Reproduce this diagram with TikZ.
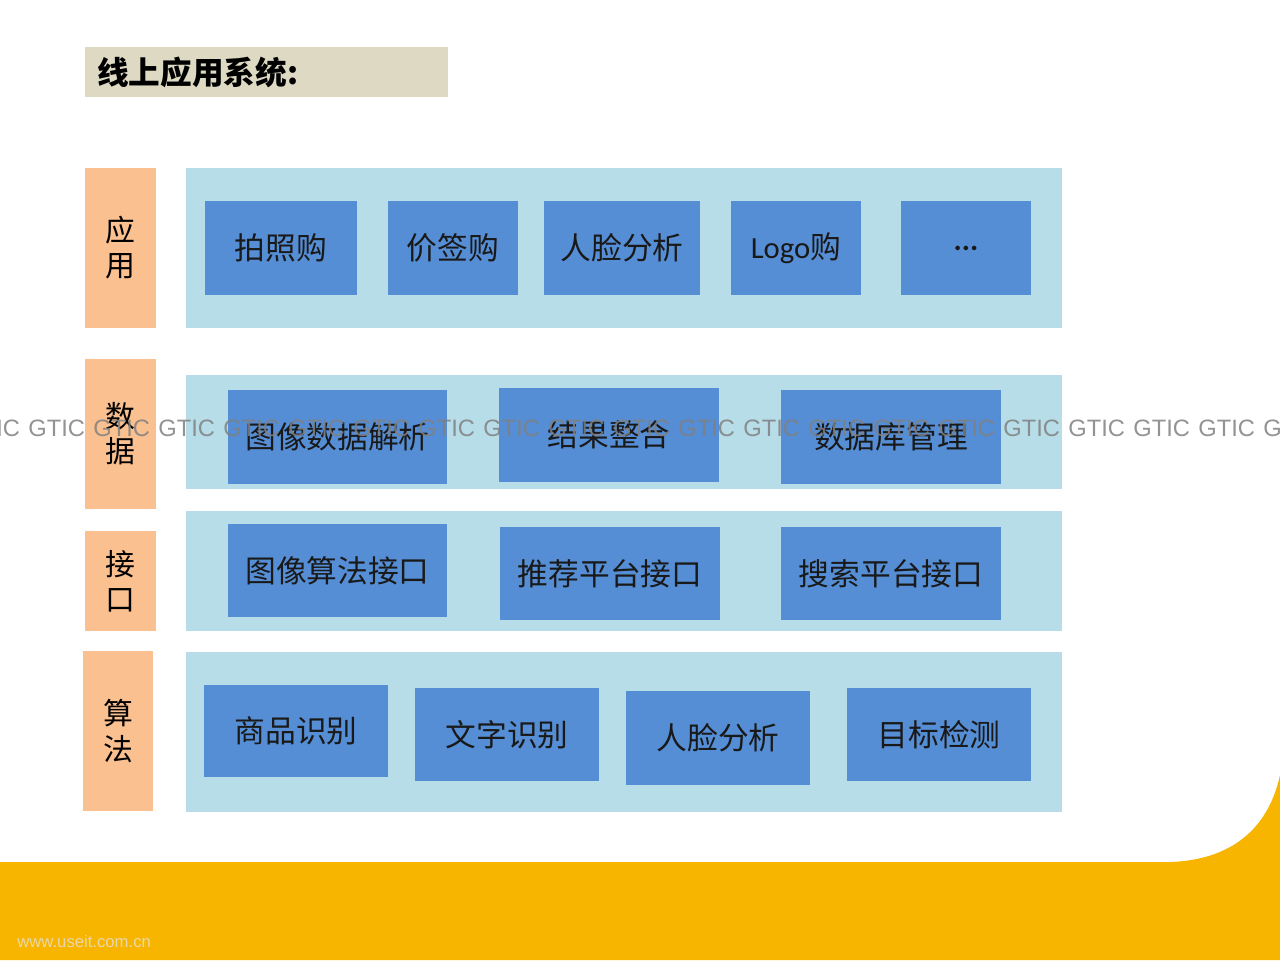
\documentclass[tikz,border=0pt]{standalone}
\usepackage{fontspec}
\setmainfont{Liberation Sans}
\newfontfamily\cjk{Noto Sans CJK SC}
\newfontfamily\calib{Carlito}
\usetikzlibrary{fit}

\definecolor{layerorange}{HTML}{FAC090}
\definecolor{bandblue}{HTML}{B7DDE8}
\definecolor{moduleblue}{HTML}{558ED5}
\definecolor{titlebg}{HTML}{DDD9C3}
\definecolor{footyellow}{HTML}{F7B500}
\definecolor{sitecream}{RGB}{232,216,170}

\tikzset{
	layer/.style={fill=layerorange, inner sep=0pt},
	layer text/.style={inner sep=0pt, align=center, font=\cjk\fontsize{17}{20}\selectfont},
	band/.style={fill=bandblue, inner sep=0pt},
	module/.style={fill=moduleblue, inner sep=0pt},
	module text/.style={inner sep=0pt, text=black!90, font=\cjk\fontsize{17.5}{20}\selectfont},
	mark text/.style={inner sep=0pt, anchor=west, text=black!50, font=\fontsize{13.5}{15}\selectfont}
}

\begin{document}
\begin{tikzpicture}[x=0.02cm,y=-0.02cm]
	\useasboundingbox (0,0) rectangle (1280,960);
	\fill[footyellow] (0,862) -- (1170,862) .. controls (1230,860) and (1268,830) .. (1280,775) -- (1280,960) -- (0,960) -- cycle;

	\node[fill=titlebg, inner sep=0pt, fit={(85,47) (448,97)}] (title) {};
	\node[anchor=west, inner sep=0pt, font=\cjk\bfseries\fontsize{18}{20}\selectfont] (titletext) at (97,72) {线上应用系统:};

	\node[layer, fit={(85,168) (156,328)}, label={[layer text]center:应\\用}] (yy) {};
	\node[layer, fit={(85,359) (156,509)}, label={[layer text]center:数\\据}] (sj) {};
	\node[layer, fit={(85,531) (156,631)}, label={[layer text]center:接\\口}] (jk) {};
	\node[layer, fit={(83,651) (153,811)}, label={[layer text]center:算\\法}] (sf) {};

	\node[band, fit={(186,168) (1062,328)}] (yyband) {};
	\node[band, fit={(186,375) (1062,489)}] (sjband) {};
	\node[band, fit={(186,511) (1062,631)}] (jkband) {};
	\node[band, fit={(186,652) (1062,812)}] (sfband) {};

	\node[module, fit={(205,201) (357,295)}, label={[module text]center:拍照购}] (pzg) {};
	\node[module, fit={(388,201) (518,295)}, label={[module text]center:价签购}] (jqg) {};
	\node[module, fit={(544,201) (700,295)}, label={[module text]center:人脸分析}] (rlfx) {};
	\node[module, fit={(731,201) (861,295)}, label={[module text]center:{\calib Logo}购}] (logog) {};
	\node[module, fit={(901,201) (1031,295)}, label={[module text]center:{\calib\bfseries ...}}] (more) {};

	\node[module, fit={(228,390) (447,484)}, label={[module text]center:图像数据解析}] (txjx) {};
	\node[module, fit={(499,388) (719,482)}, label={[module text]center:结果整合}] (jgzh) {};
	\node[module, fit={(781,390) (1001,484)}, label={[module text]center:数据库管理}] (sjkgl) {};

	\node[module, fit={(228,524) (447,617)}, label={[module text]center:图像算法接口}] (txjk) {};
	\node[module, fit={(500,527) (720,620)}, label={[module text]center:推荐平台接口}] (tjjk) {};
	\node[module, fit={(781,527) (1001,620)}, label={[module text]center:搜索平台接口}] (ssjk) {};

	\node[module, fit={(204,685) (388,777)}, label={[module text]center:商品识别}] (spsb) {};
	\node[module, fit={(415,688) (599,781)}, label={[module text]center:文字识别}] (wzsb) {};
	\node[module, fit={(626,691) (810,785)}, label={[module text]center:人脸分析}] (rlsb) {};
	\node[module, fit={(847,688) (1031,781)}, label={[module text]center:目标检测}] (mbjc) {};

	\begin{scope}[opacity=0.85]
		\clip (0,0) rectangle (1280,960);
		\foreach \i in {-1,...,19}
			\node[mark text] (gtic\i) at (28+65*\i,428) {GTIC};
	\end{scope}

	\node[anchor=west, inner sep=0pt, text=sitecream, font=\fontsize{9.5}{11}\selectfont] (site) at (17,942) {www.useit.com.cn};
\end{tikzpicture}
\end{document}
